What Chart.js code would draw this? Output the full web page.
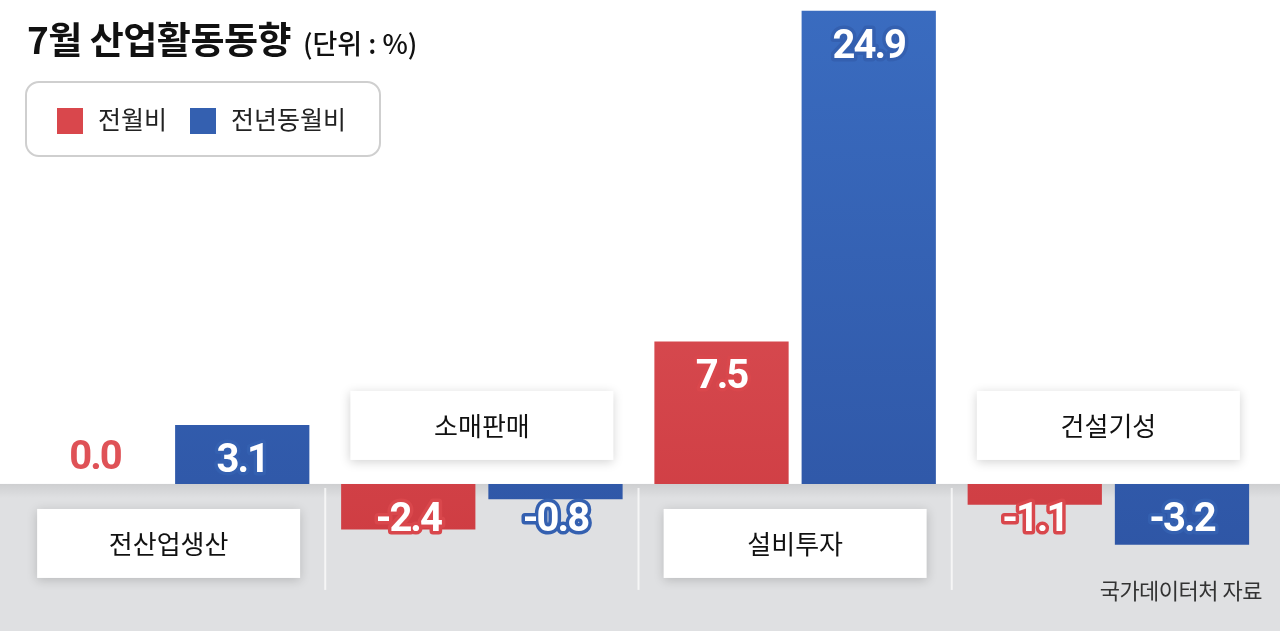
<!DOCTYPE html>
<html>
<head>
<meta charset="utf-8">
<script src="https://cdn.jsdelivr.net/npm/chart.js@4"></script>
<style>
  body { margin: 0; background: #fff; font-family: "Noto Sans CJK KR", sans-serif; }
  #wrap { position: relative; width: 1280px; height: 631px; overflow: hidden; }
  #title { position: absolute; left: 27px; top: 11px; font-size: 37px; font-weight: 700; color: #111; letter-spacing: -0.5px; white-space: nowrap; }
  #title span { font-size: 27px; font-weight: 500; letter-spacing: 0; margin-left: 4px; }
  #legend { position: absolute; left: 25px; top: 81px; width: 352px; height: 72px; border: 2px solid #cfcfcf; border-radius: 14px; background: #fff; }
  .item { position: absolute; top: 20px; font-size: 25px; color: #222; line-height: 30px; }
  .sw { display: inline-block; width: 26px; height: 26px; vertical-align: -5px; margin-right: 15px; }
  #source { position: absolute; right: 18px; top: 573px; font-size: 22px; color: #333; letter-spacing: -0.5px; }
</style>
</head>
<body>
<div id="wrap">
  <canvas id="chart" width="1280" height="631"></canvas>
  <div id="title">7월 산업활동동향 <span>(단위 : %)</span></div>
  <div id="legend">
    <div class="item" style="left:30px"><span class="sw" style="background:#d9474c"></span>전월비</div>
    <div class="item" style="left:163px"><span class="sw" style="background:#3460b0"></span>전년동월비</div>
  </div>
  <div id="source">국가데이터처 자료</div>
</div>
<script>
var categories = ["전산업생산", "소매판매", "설비투자", "건설기성"];
var monthOnMonth = [0.0, -2.4, 7.5, -1.1];
var yearOnYear = [3.1, -0.8, 24.9, -3.2];
var seriesNames = ["전월비", "전년동월비"];
// label box above the baseline (true) or below it
var labelAbove = [false, true, false, true];

var RED = "#d9474c", BLUE = "#3460b0";

function barGradient(ctx, light, dark) {
    var g = ctx.createLinearGradient(0, 0, 0, 631);
    g.addColorStop(0, light);
    g.addColorStop(1, dark);
    return g;
}

// gray floor under the zero line, dividers, category boxes, value labels
var floorPlugin = {
    id: 'floor',
    beforeDatasetsDraw: function(chart) {
        var ctx = chart.ctx;
        var y0 = chart.scales.y.getPixelForValue(0);
        var xs = chart.scales.x;
        ctx.save();
        ctx.fillStyle = "#dfe0e2";
        ctx.fillRect(0, y0, chart.width, chart.height - y0);
        var sh = ctx.createLinearGradient(0, y0, 0, y0 + 14);
        sh.addColorStop(0, "rgba(0,0,0,0.08)");
        sh.addColorStop(1, "rgba(0,0,0,0)");
        ctx.fillStyle = sh;
        ctx.fillRect(0, y0, chart.width, 14);
        ctx.strokeStyle = "rgba(255,255,255,0.7)";
        ctx.lineWidth = 2;
        for (var i = 0; i < categories.length - 1; i++) {
            var xm = (xs.getPixelForValue(i) + xs.getPixelForValue(i + 1)) / 2;
            ctx.beginPath();
            ctx.moveTo(xm, y0 + 4);
            ctx.lineTo(xm, y0 + 106);
            ctx.stroke();
        }
        ctx.restore();
    },
    afterDatasetsDraw: function(chart) {
        var ctx = chart.ctx;
        var y0 = chart.scales.y.getPixelForValue(0);
        var xs = chart.scales.x;
        ctx.save();
        categories.forEach(function(name, i) {
            var cx = xs.getPixelForValue(i);
            var w = 263, h = 69;
            var top = labelAbove[i] ? y0 - 24 - h : y0 + 25;
            ctx.save();
            ctx.shadowColor = "rgba(0,0,0,0.18)";
            ctx.shadowBlur = 10;
            ctx.shadowOffsetY = 2;
            ctx.fillStyle = "#fff";
            ctx.fillRect(cx - w / 2, top, w, h);
            ctx.restore();
            ctx.fillStyle = "#111";
            ctx.font = "400 26px 'Noto Sans CJK KR'";
            ctx.textAlign = "center";
            ctx.textBaseline = "middle";
            ctx.fillText(name, cx, top + h / 2 + 1);
        });
        chart.data.datasets.forEach(function(ds, di) {
            var meta = chart.getDatasetMeta(di);
            var col = di === 0 ? RED : BLUE;
            meta.data.forEach(function(bar, i) {
                var v = ds.data[i];
                var txt = v.toFixed(1);
                var y;
                ctx.font = "700 40px Roboto";
                ctx.letterSpacing = "-2px";
                ctx.textAlign = "center";
                ctx.textBaseline = "middle";
                ctx.lineJoin = "round";
                if (v === 0) {
                    ctx.fillStyle = "#df5257";
                    ctx.fillText(txt, bar.x, y0 - 25);
                    return;
                }
                if (v > 0) y = bar.y + 37;
                else y = y0 + 37;
                ctx.strokeStyle = col;
                ctx.lineWidth = 7;
                ctx.strokeText(txt, bar.x, y);
                ctx.fillStyle = "#fff";
                ctx.fillText(txt, bar.x, y);
            });
        });
        ctx.restore();
    }
};

var ctx = document.getElementById("chart").getContext('2d');
var myChart = new Chart(ctx, {
    type: 'bar',
    data: {
        labels: categories,
        datasets: [{
            label: seriesNames[0],
            data: monthOnMonth,
            backgroundColor: function(c) { return barGradient(c.chart.ctx, "#e05a5f", "#cc383e"); },
            categoryPercentage: 0.94,
            barPercentage: 0.912
        }, {
            label: seriesNames[1],
            data: yearOnYear,
            backgroundColor: function(c) { return barGradient(c.chart.ctx, "#3a6cc0", "#2d53a2"); },
            categoryPercentage: 0.94,
            barPercentage: 0.912
        }]
    },
    options: {
        responsive: false,
        animation: false,
        layout: { padding: { left: 12, right: 15, top: 0, bottom: 0 } },
        plugins: { legend: { display: false }, tooltip: { enabled: false } },
        scales: {
            x: { display: false },
            y: { display: false, min: -7.74, max: 25.47 }
        }
    },
    plugins: [floorPlugin]
});
</script>
</body>
</html>
